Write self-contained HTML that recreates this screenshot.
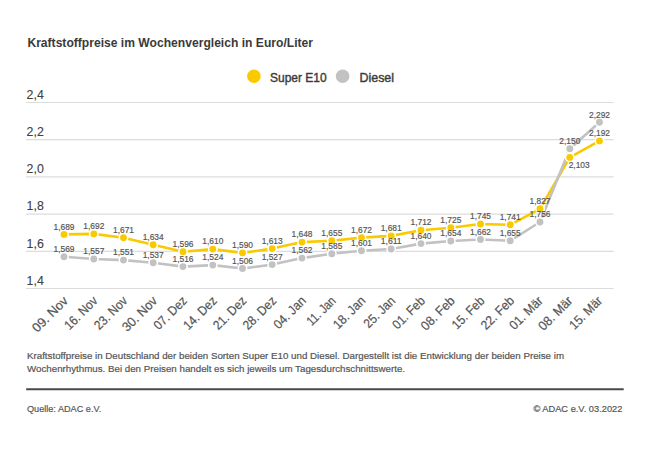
<!DOCTYPE html>
<html><head><meta charset="utf-8"><style>
html,body{margin:0;padding:0;background:#fff;width:650px;height:456px;overflow:hidden;}
body{position:relative;font-family:"Liberation Sans",sans-serif;}
svg{position:absolute;left:0;top:0;}
.t{font-weight:bold;font-size:13.5px;fill:#3a3a3a;}
.ya{font-size:13.5px;fill:#404040;stroke:#404040;stroke-width:0.1px;}
.dl{font-size:9.9px;fill:#555;stroke:#555;stroke-width:0.2px;}
.xl{font-size:13px;fill:#555;stroke:#555;stroke-width:0.2px;}
.lg{font-size:13px;fill:#3a3a3a;stroke:#3a3a3a;stroke-width:0.4px;}
.ft{font-size:9.6px;fill:#555;stroke:#555;stroke-width:0.2px;}
</style></head><body>
<svg width="650" height="456" viewBox="0 0 650 456">
<text x="27.4" y="47.4" class="t" textLength="285.6" lengthAdjust="spacingAndGlyphs">Kraftstoffpreise im Wochenvergleich in Euro/Liter</text>
<circle cx="253.9" cy="76.2" r="6.8" fill="#f9ca00"/>
<text x="270" y="81.6" class="lg" textLength="56.7" lengthAdjust="spacingAndGlyphs">Super E10</text>
<circle cx="342.6" cy="76.2" r="6.8" fill="#c2c2c2"/>
<text x="359.5" y="81.6" class="lg" textLength="34.5" lengthAdjust="spacingAndGlyphs">Diesel</text>
<line x1="26" y1="102.5" x2="613.5" y2="102.5" stroke="#dcdcdc" stroke-width="1.2"/>
<text x="26.6" y="98.8" class="ya" textLength="17.2" lengthAdjust="spacingAndGlyphs">2,4</text>
<line x1="26" y1="139.7" x2="613.5" y2="139.7" stroke="#dcdcdc" stroke-width="1.2"/>
<text x="26.6" y="136.0" class="ya" textLength="17.2" lengthAdjust="spacingAndGlyphs">2,2</text>
<line x1="26" y1="176.9" x2="613.5" y2="176.9" stroke="#dcdcdc" stroke-width="1.2"/>
<text x="26.6" y="173.2" class="ya" textLength="17.2" lengthAdjust="spacingAndGlyphs">2,0</text>
<line x1="26" y1="214.1" x2="613.5" y2="214.1" stroke="#dcdcdc" stroke-width="1.2"/>
<text x="26.6" y="210.4" class="ya" textLength="17.2" lengthAdjust="spacingAndGlyphs">1,8</text>
<line x1="26" y1="251.3" x2="613.5" y2="251.3" stroke="#dcdcdc" stroke-width="1.2"/>
<text x="26.6" y="247.6" class="ya" textLength="17.2" lengthAdjust="spacingAndGlyphs">1,6</text>
<line x1="26" y1="288.5" x2="613.5" y2="288.5" stroke="#dcdcdc" stroke-width="1.2"/>
<text x="26.6" y="284.8" class="ya" textLength="17.2" lengthAdjust="spacingAndGlyphs">1,4</text>
<polyline points="64.0,234.4 93.8,233.9 123.5,237.8 153.2,244.7 183.0,251.7 212.8,249.1 242.5,252.9 272.2,248.6 302.0,242.1 331.8,240.8 361.5,237.6 391.2,235.9 421.0,230.2 450.8,227.7 480.5,224.0 510.2,224.8 540.0,208.8 569.8,157.4 599.5,140.9" fill="none" stroke="#f9ca00" stroke-width="2.6" stroke-linejoin="round"/>
<polyline points="64.0,256.8 93.8,259.0 123.5,260.1 153.2,262.7 183.0,266.6 212.8,265.1 242.5,268.5 272.2,264.6 302.0,258.1 331.8,253.8 361.5,250.8 391.2,249.0 421.0,243.6 450.8,241.0 480.5,239.5 510.2,240.8 540.0,222.0 569.8,148.7 599.5,122.3" fill="none" stroke="#c2c2c2" stroke-width="2.6" stroke-linejoin="round"/>
<circle cx="64.0" cy="234.4" r="4.2" fill="#f9ca00" stroke="#fff" stroke-width="1.5"/>
<circle cx="93.8" cy="233.9" r="4.2" fill="#f9ca00" stroke="#fff" stroke-width="1.5"/>
<circle cx="123.5" cy="237.8" r="4.2" fill="#f9ca00" stroke="#fff" stroke-width="1.5"/>
<circle cx="153.2" cy="244.7" r="4.2" fill="#f9ca00" stroke="#fff" stroke-width="1.5"/>
<circle cx="183.0" cy="251.7" r="4.2" fill="#f9ca00" stroke="#fff" stroke-width="1.5"/>
<circle cx="212.8" cy="249.1" r="4.2" fill="#f9ca00" stroke="#fff" stroke-width="1.5"/>
<circle cx="242.5" cy="252.9" r="4.2" fill="#f9ca00" stroke="#fff" stroke-width="1.5"/>
<circle cx="272.2" cy="248.6" r="4.2" fill="#f9ca00" stroke="#fff" stroke-width="1.5"/>
<circle cx="302.0" cy="242.1" r="4.2" fill="#f9ca00" stroke="#fff" stroke-width="1.5"/>
<circle cx="331.8" cy="240.8" r="4.2" fill="#f9ca00" stroke="#fff" stroke-width="1.5"/>
<circle cx="361.5" cy="237.6" r="4.2" fill="#f9ca00" stroke="#fff" stroke-width="1.5"/>
<circle cx="391.2" cy="235.9" r="4.2" fill="#f9ca00" stroke="#fff" stroke-width="1.5"/>
<circle cx="421.0" cy="230.2" r="4.2" fill="#f9ca00" stroke="#fff" stroke-width="1.5"/>
<circle cx="450.8" cy="227.7" r="4.2" fill="#f9ca00" stroke="#fff" stroke-width="1.5"/>
<circle cx="480.5" cy="224.0" r="4.2" fill="#f9ca00" stroke="#fff" stroke-width="1.5"/>
<circle cx="510.2" cy="224.8" r="4.2" fill="#f9ca00" stroke="#fff" stroke-width="1.5"/>
<circle cx="540.0" cy="208.8" r="4.2" fill="#f9ca00" stroke="#fff" stroke-width="1.5"/>
<circle cx="569.8" cy="157.4" r="4.2" fill="#f9ca00" stroke="#fff" stroke-width="1.5"/>
<circle cx="599.5" cy="140.9" r="4.2" fill="#f9ca00" stroke="#fff" stroke-width="1.5"/>
<circle cx="64.0" cy="256.8" r="4.2" fill="#c2c2c2" stroke="#fff" stroke-width="1.5"/>
<circle cx="93.8" cy="259.0" r="4.2" fill="#c2c2c2" stroke="#fff" stroke-width="1.5"/>
<circle cx="123.5" cy="260.1" r="4.2" fill="#c2c2c2" stroke="#fff" stroke-width="1.5"/>
<circle cx="153.2" cy="262.7" r="4.2" fill="#c2c2c2" stroke="#fff" stroke-width="1.5"/>
<circle cx="183.0" cy="266.6" r="4.2" fill="#c2c2c2" stroke="#fff" stroke-width="1.5"/>
<circle cx="212.8" cy="265.1" r="4.2" fill="#c2c2c2" stroke="#fff" stroke-width="1.5"/>
<circle cx="242.5" cy="268.5" r="4.2" fill="#c2c2c2" stroke="#fff" stroke-width="1.5"/>
<circle cx="272.2" cy="264.6" r="4.2" fill="#c2c2c2" stroke="#fff" stroke-width="1.5"/>
<circle cx="302.0" cy="258.1" r="4.2" fill="#c2c2c2" stroke="#fff" stroke-width="1.5"/>
<circle cx="331.8" cy="253.8" r="4.2" fill="#c2c2c2" stroke="#fff" stroke-width="1.5"/>
<circle cx="361.5" cy="250.8" r="4.2" fill="#c2c2c2" stroke="#fff" stroke-width="1.5"/>
<circle cx="391.2" cy="249.0" r="4.2" fill="#c2c2c2" stroke="#fff" stroke-width="1.5"/>
<circle cx="421.0" cy="243.6" r="4.2" fill="#c2c2c2" stroke="#fff" stroke-width="1.5"/>
<circle cx="450.8" cy="241.0" r="4.2" fill="#c2c2c2" stroke="#fff" stroke-width="1.5"/>
<circle cx="480.5" cy="239.5" r="4.2" fill="#c2c2c2" stroke="#fff" stroke-width="1.5"/>
<circle cx="510.2" cy="240.8" r="4.2" fill="#c2c2c2" stroke="#fff" stroke-width="1.5"/>
<circle cx="540.0" cy="222.0" r="4.2" fill="#c2c2c2" stroke="#fff" stroke-width="1.5"/>
<circle cx="569.8" cy="148.7" r="4.2" fill="#c2c2c2" stroke="#fff" stroke-width="1.5"/>
<circle cx="599.5" cy="122.3" r="4.2" fill="#c2c2c2" stroke="#fff" stroke-width="1.5"/>
<text x="64.0" y="229.6" class="dl" text-anchor="middle" textLength="21" lengthAdjust="spacingAndGlyphs">1,689</text>
<text x="93.8" y="229.1" class="dl" text-anchor="middle" textLength="21" lengthAdjust="spacingAndGlyphs">1,692</text>
<text x="123.5" y="233.0" class="dl" text-anchor="middle" textLength="21" lengthAdjust="spacingAndGlyphs">1,671</text>
<text x="153.2" y="239.9" class="dl" text-anchor="middle" textLength="21" lengthAdjust="spacingAndGlyphs">1,634</text>
<text x="183.0" y="246.9" class="dl" text-anchor="middle" textLength="21" lengthAdjust="spacingAndGlyphs">1,596</text>
<text x="212.8" y="244.3" class="dl" text-anchor="middle" textLength="21" lengthAdjust="spacingAndGlyphs">1,610</text>
<text x="242.5" y="248.1" class="dl" text-anchor="middle" textLength="21" lengthAdjust="spacingAndGlyphs">1,590</text>
<text x="272.2" y="243.8" class="dl" text-anchor="middle" textLength="21" lengthAdjust="spacingAndGlyphs">1,613</text>
<text x="302.0" y="237.3" class="dl" text-anchor="middle" textLength="21" lengthAdjust="spacingAndGlyphs">1,648</text>
<text x="331.8" y="236.0" class="dl" text-anchor="middle" textLength="21" lengthAdjust="spacingAndGlyphs">1,655</text>
<text x="361.5" y="232.8" class="dl" text-anchor="middle" textLength="21" lengthAdjust="spacingAndGlyphs">1,672</text>
<text x="391.2" y="231.1" class="dl" text-anchor="middle" textLength="21" lengthAdjust="spacingAndGlyphs">1,681</text>
<text x="421.0" y="225.4" class="dl" text-anchor="middle" textLength="21" lengthAdjust="spacingAndGlyphs">1,712</text>
<text x="450.8" y="222.9" class="dl" text-anchor="middle" textLength="21" lengthAdjust="spacingAndGlyphs">1,725</text>
<text x="480.5" y="219.2" class="dl" text-anchor="middle" textLength="21" lengthAdjust="spacingAndGlyphs">1,745</text>
<text x="510.2" y="220.0" class="dl" text-anchor="middle" textLength="21" lengthAdjust="spacingAndGlyphs">1,741</text>
<text x="540.0" y="204.0" class="dl" text-anchor="middle" textLength="21" lengthAdjust="spacingAndGlyphs">1,827</text>
<text x="579.2" y="168.4" class="dl" text-anchor="middle" textLength="21" lengthAdjust="spacingAndGlyphs">2,103</text>
<text x="599.5" y="136.1" class="dl" text-anchor="middle" textLength="21" lengthAdjust="spacingAndGlyphs">2,192</text>
<text x="64.0" y="252.0" class="dl" text-anchor="middle" textLength="21" lengthAdjust="spacingAndGlyphs">1,569</text>
<text x="93.8" y="254.2" class="dl" text-anchor="middle" textLength="21" lengthAdjust="spacingAndGlyphs">1,557</text>
<text x="123.5" y="255.3" class="dl" text-anchor="middle" textLength="21" lengthAdjust="spacingAndGlyphs">1,551</text>
<text x="153.2" y="257.9" class="dl" text-anchor="middle" textLength="21" lengthAdjust="spacingAndGlyphs">1,537</text>
<text x="183.0" y="261.8" class="dl" text-anchor="middle" textLength="21" lengthAdjust="spacingAndGlyphs">1,516</text>
<text x="212.8" y="260.3" class="dl" text-anchor="middle" textLength="21" lengthAdjust="spacingAndGlyphs">1,524</text>
<text x="242.5" y="263.7" class="dl" text-anchor="middle" textLength="21" lengthAdjust="spacingAndGlyphs">1,506</text>
<text x="272.2" y="259.8" class="dl" text-anchor="middle" textLength="21" lengthAdjust="spacingAndGlyphs">1,527</text>
<text x="302.0" y="253.3" class="dl" text-anchor="middle" textLength="21" lengthAdjust="spacingAndGlyphs">1,562</text>
<text x="331.8" y="249.0" class="dl" text-anchor="middle" textLength="21" lengthAdjust="spacingAndGlyphs">1,585</text>
<text x="361.5" y="246.0" class="dl" text-anchor="middle" textLength="21" lengthAdjust="spacingAndGlyphs">1,601</text>
<text x="391.2" y="244.2" class="dl" text-anchor="middle" textLength="21" lengthAdjust="spacingAndGlyphs">1,611</text>
<text x="421.0" y="238.8" class="dl" text-anchor="middle" textLength="21" lengthAdjust="spacingAndGlyphs">1,640</text>
<text x="450.8" y="236.2" class="dl" text-anchor="middle" textLength="21" lengthAdjust="spacingAndGlyphs">1,654</text>
<text x="480.5" y="234.7" class="dl" text-anchor="middle" textLength="21" lengthAdjust="spacingAndGlyphs">1,662</text>
<text x="510.2" y="236.0" class="dl" text-anchor="middle" textLength="21" lengthAdjust="spacingAndGlyphs">1,655</text>
<text x="540.0" y="217.2" class="dl" text-anchor="middle" textLength="21" lengthAdjust="spacingAndGlyphs">1,756</text>
<text x="569.8" y="143.9" class="dl" text-anchor="middle" textLength="21" lengthAdjust="spacingAndGlyphs">2,150</text>
<text x="599.5" y="117.5" class="dl" text-anchor="middle" textLength="21" lengthAdjust="spacingAndGlyphs">2,292</text>
<text x="68.8" y="301.6" class="xl" text-anchor="end" textLength="44.5" lengthAdjust="spacingAndGlyphs" transform="rotate(-45 68.8 301.6)">09. Nov</text>
<text x="98.5" y="301.6" class="xl" text-anchor="end" textLength="41" lengthAdjust="spacingAndGlyphs" transform="rotate(-45 98.5 301.6)">16. Nov</text>
<text x="128.3" y="301.6" class="xl" text-anchor="end" textLength="41" lengthAdjust="spacingAndGlyphs" transform="rotate(-45 128.3 301.6)">23. Nov</text>
<text x="158.1" y="301.6" class="xl" text-anchor="end" textLength="43.5" lengthAdjust="spacingAndGlyphs" transform="rotate(-45 158.1 301.6)">30. Nov</text>
<text x="187.8" y="301.6" class="xl" text-anchor="end" textLength="41" lengthAdjust="spacingAndGlyphs" transform="rotate(-45 187.8 301.6)">07. Dez</text>
<text x="217.6" y="301.6" class="xl" text-anchor="end" textLength="41" lengthAdjust="spacingAndGlyphs" transform="rotate(-45 217.6 301.6)">14. Dez</text>
<text x="247.3" y="301.6" class="xl" text-anchor="end" textLength="41" lengthAdjust="spacingAndGlyphs" transform="rotate(-45 247.3 301.6)">21. Dez</text>
<text x="277.1" y="301.6" class="xl" text-anchor="end" textLength="41" lengthAdjust="spacingAndGlyphs" transform="rotate(-45 277.1 301.6)">28. Dez</text>
<text x="306.8" y="301.6" class="xl" text-anchor="end" textLength="39.7" lengthAdjust="spacingAndGlyphs" transform="rotate(-45 306.8 301.6)">04. Jan</text>
<text x="336.6" y="301.6" class="xl" text-anchor="end" textLength="35" lengthAdjust="spacingAndGlyphs" transform="rotate(-45 336.6 301.6)">11. Jan</text>
<text x="366.3" y="301.6" class="xl" text-anchor="end" textLength="39.7" lengthAdjust="spacingAndGlyphs" transform="rotate(-45 366.3 301.6)">18. Jan</text>
<text x="396.1" y="301.6" class="xl" text-anchor="end" textLength="38.5" lengthAdjust="spacingAndGlyphs" transform="rotate(-45 396.1 301.6)">25. Jan</text>
<text x="425.8" y="301.6" class="xl" text-anchor="end" textLength="40" lengthAdjust="spacingAndGlyphs" transform="rotate(-45 425.8 301.6)">01. Feb</text>
<text x="455.6" y="301.6" class="xl" text-anchor="end" textLength="41.8" lengthAdjust="spacingAndGlyphs" transform="rotate(-45 455.6 301.6)">08. Feb</text>
<text x="485.3" y="301.6" class="xl" text-anchor="end" textLength="40" lengthAdjust="spacingAndGlyphs" transform="rotate(-45 485.3 301.6)">15. Feb</text>
<text x="515.0" y="301.6" class="xl" text-anchor="end" textLength="41" lengthAdjust="spacingAndGlyphs" transform="rotate(-45 515.0 301.6)">22. Feb</text>
<text x="543.6" y="301.6" class="xl" text-anchor="end" textLength="41" lengthAdjust="spacingAndGlyphs" transform="rotate(-45 543.6 301.6)">01. Mär</text>
<text x="573.3" y="301.6" class="xl" text-anchor="end" textLength="42" lengthAdjust="spacingAndGlyphs" transform="rotate(-45 573.3 301.6)">08. Mär</text>
<text x="603.1" y="301.6" class="xl" text-anchor="end" textLength="40.5" lengthAdjust="spacingAndGlyphs" transform="rotate(-45 603.1 301.6)">15. Mär</text>
<text x="27" y="359.4" class="ft" textLength="537" lengthAdjust="spacingAndGlyphs">Kraftstoffpreise in Deutschland der beiden Sorten Super E10 und Diesel. Dargestellt ist die Entwicklung der beiden Preise im</text>
<text x="27" y="372" class="ft" textLength="378" lengthAdjust="spacingAndGlyphs">Wochenrhythmus. Bei den Preisen handelt es sich jeweils um Tagesdurchschnittswerte.</text>
<line x1="26.2" y1="389.2" x2="623.7" y2="389.2" stroke="#484848" stroke-width="2"/>
<text x="27" y="412.3" class="ft" textLength="74.2" lengthAdjust="spacingAndGlyphs">Quelle: ADAC e.V.</text>
<text x="622.4" y="411.7" class="ft" text-anchor="end" textLength="89" lengthAdjust="spacingAndGlyphs">© ADAC e.V. 03.2022</text>
</svg>
</body></html>
